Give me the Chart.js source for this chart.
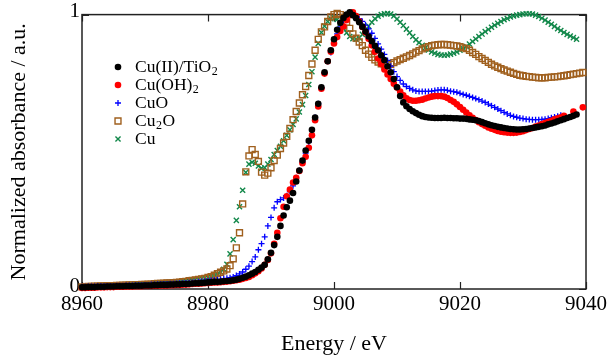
<!DOCTYPE html>
<html>
<head>
<meta charset="utf-8">
<script src="https://cdn.jsdelivr.net/npm/chart.js@4.4.1/dist/chart.umd.min.js"></script>
<style>
  html, body { margin: 0; padding: 0; background: #fff; }
  canvas { display: block; }
</style>
</head>
<body>
<canvas id="xanes" width="613" height="358"></canvas>
<script>
// Cu K-edge XANES spectra, normalized absorbance, 0.5 eV steps
const energy = [
  8960, 8960.5, 8961, 8961.5, 8962, 8962.5, 8963, 8963.5, 8964, 8964.5,
  8965, 8965.5, 8966, 8966.5, 8967, 8967.5, 8968, 8968.5, 8969, 8969.5,
  8970, 8970.5, 8971, 8971.5, 8972, 8972.5, 8973, 8973.5, 8974, 8974.5,
  8975, 8975.5, 8976, 8976.5, 8977, 8977.5, 8978, 8978.5, 8979, 8979.5,
  8980, 8980.5, 8981, 8981.5, 8982, 8982.5, 8983, 8983.5, 8984, 8984.5,
  8985, 8985.5, 8986, 8986.5, 8987, 8987.5, 8988, 8988.5, 8989, 8989.5,
  8990, 8990.5, 8991, 8991.5, 8992, 8992.5, 8993, 8993.5, 8994, 8994.5,
  8995, 8995.5, 8996, 8996.5, 8997, 8997.5, 8998, 8998.5, 8999, 8999.5,
  9000, 9000.5, 9001, 9001.5, 9002, 9002.5, 9003, 9003.5, 9004, 9004.5,
  9005, 9005.5, 9006, 9006.5, 9007, 9007.5, 9008, 9008.5, 9009, 9009.5,
  9010, 9010.5, 9011, 9011.5, 9012, 9012.5, 9013, 9013.5, 9014, 9014.5,
  9015, 9015.5, 9016, 9016.5, 9017, 9017.5, 9018, 9018.5, 9019, 9019.5,
  9020, 9020.5, 9021, 9021.5, 9022, 9022.5, 9023, 9023.5, 9024, 9024.5,
  9025, 9025.5, 9026, 9026.5, 9027, 9027.5, 9028, 9028.5, 9029, 9029.5,
  9030, 9030.5, 9031, 9031.5, 9032, 9032.5, 9033, 9033.5, 9034, 9034.5,
  9035, 9035.5, 9036, 9036.5, 9037, 9037.5, 9038, 9038.5, 9039, 9039.5,
  9040
];

const cuTiO2 = [
  0.006, 0.006, 0.007, 0.007, 0.007, 0.008, 0.008, 0.008, 0.009, 0.009,
  0.009, 0.010, 0.010, 0.010, 0.011, 0.011, 0.011, 0.012, 0.012, 0.012,
  0.013, 0.013, 0.013, 0.014, 0.014, 0.015, 0.015, 0.015, 0.016, 0.016,
  0.017, 0.017, 0.018, 0.018, 0.019, 0.020, 0.021, 0.021, 0.022, 0.023,
  0.024, 0.025, 0.026, 0.026, 0.027, 0.028, 0.029, 0.030, 0.032, 0.034,
  0.037, 0.041, 0.045, 0.050, 0.056, 0.062, 0.070, 0.078, 0.088, 0.108,
  0.132, 0.160, 0.190, 0.230, 0.268, 0.298, 0.322, 0.350, 0.392, 0.432,
  0.468, 0.505, 0.540, 0.580, 0.625, 0.675, 0.735, 0.790, 0.830, 0.870,
  0.910, 0.945, 0.970, 0.988, 1.000, 1.008, 0.998, 0.987, 0.972, 0.956,
  0.938, 0.920, 0.903, 0.886, 0.870, 0.852, 0.834, 0.812, 0.790, 0.765,
  0.735, 0.703, 0.680, 0.666, 0.656, 0.648, 0.641, 0.635, 0.630, 0.627,
  0.625, 0.624, 0.623, 0.623, 0.623, 0.624, 0.623, 0.623, 0.622, 0.622,
  0.621, 0.621, 0.620, 0.618, 0.617, 0.615, 0.612, 0.608, 0.604, 0.600,
  0.597, 0.594, 0.591, 0.589, 0.587, 0.585, 0.583, 0.582, 0.581, 0.581,
  0.582, 0.583, 0.585, 0.587, 0.589, 0.591, 0.593, 0.596, 0.600, 0.603,
  0.607, 0.611, 0.615, 0.619, 0.623, 0.627, 0.631, 0.636, null, null,
  null
];

const cuOH2 = [
  0.004, 0.004, 0.005, 0.005, 0.005, 0.006, 0.006, 0.006, 0.007, 0.007,
  0.007, 0.008, 0.008, 0.008, 0.009, 0.009, 0.009, 0.010, 0.010, 0.010,
  0.011, 0.011, 0.011, 0.012, 0.012, 0.013, 0.013, 0.013, 0.014, 0.014,
  0.015, 0.015, 0.016, 0.016, 0.017, 0.018, 0.019, 0.019, 0.020, 0.021,
  0.022, 0.023, 0.024, 0.024, 0.025, 0.026, 0.027, 0.028, 0.030, 0.032,
  0.034, 0.037, 0.040, 0.044, 0.050, 0.057, 0.065, 0.075, 0.088, 0.106,
  0.130, 0.165, 0.205, 0.258, 0.300, 0.338, 0.362, 0.388, 0.405, 0.430,
  0.458, 0.482, 0.515, 0.560, 0.615, 0.665, 0.730, 0.785, 0.830, 0.865,
  0.895, 0.918, 0.940, 0.957, 0.980, 0.998, 1.008, 0.995, 0.976, 0.955,
  0.935, 0.912, 0.888, 0.865, 0.840, 0.820, 0.800, 0.782, 0.765, 0.748,
  0.734, 0.720, 0.706, 0.695, 0.689, 0.686, 0.686, 0.688, 0.690, 0.694,
  0.698, 0.701, 0.703, 0.703, 0.703, 0.701, 0.696, 0.689, 0.682, 0.673,
  0.663, 0.653, 0.643, 0.633, 0.624, 0.616, 0.608, 0.601, 0.595, 0.589,
  0.584, 0.580, 0.576, 0.573, 0.571, 0.570, 0.569, 0.569, 0.570, 0.572,
  0.575, 0.579, 0.583, 0.587, 0.592, 0.596, 0.601, 0.605, 0.609, 0.613,
  0.618, 0.622, 0.626, 0.631, null, null, 0.647, null, null, 0.662,
  null
];

const cuO = [
  0.008, 0.008, 0.009, 0.009, 0.009, 0.010, 0.010, 0.010, 0.011, 0.011,
  0.011, 0.012, 0.012, 0.012, 0.013, 0.013, 0.013, 0.014, 0.014, 0.014,
  0.015, 0.015, 0.016, 0.016, 0.017, 0.017, 0.018, 0.018, 0.019, 0.019,
  0.020, 0.021, 0.021, 0.022, 0.023, 0.024, 0.025, 0.026, 0.027, 0.028,
  0.030, 0.031, 0.032, 0.034, 0.035, 0.037, 0.039, 0.041, 0.044, 0.049,
  0.055, 0.062, 0.072, 0.083, 0.100, 0.117, 0.143, 0.165, 0.190, 0.230,
  0.261, 0.296, 0.318, 0.326, 0.332, 0.340, 0.355, 0.376, 0.405, 0.432,
  0.462, 0.495, 0.535, 0.578, 0.625, 0.675, 0.730, 0.785, 0.830, 0.862,
  0.900, 0.930, 0.955, 0.975, 0.990, 1.000, 1.000, 0.995, 0.985, 0.975,
  0.962, 0.948, 0.932, 0.913, 0.893, 0.874, 0.855, 0.833, 0.812, 0.792,
  0.774, 0.760, 0.747, 0.738, 0.731, 0.726, 0.722, 0.720, 0.720, 0.720,
  0.720, 0.721, 0.723, 0.725, 0.726, 0.726, 0.724, 0.721, 0.719, 0.717,
  0.713, 0.709, 0.706, 0.702, 0.698, 0.694, 0.690, 0.685, 0.680, 0.674,
  0.668, 0.662, 0.656, 0.650, 0.644, 0.638, 0.633, 0.629, 0.626, 0.623,
  0.621, 0.619, 0.618, 0.617, 0.617, 0.617, 0.618, 0.619, 0.621, 0.624,
  0.627, 0.630, 0.633, null, null, null, null, null, null, null,
  null
];

const cu2O = [
  0.008, 0.008, 0.009, 0.009, 0.010, 0.010, 0.011, 0.011, 0.012, 0.012,
  0.012, 0.013, 0.013, 0.014, 0.014, 0.015, 0.015, 0.016, 0.016, 0.017,
  0.017, 0.018, 0.018, 0.019, 0.020, 0.020, 0.021, 0.022, 0.022, 0.023,
  0.024, 0.025, 0.027, 0.028, 0.030, 0.031, 0.033, 0.035, 0.037, 0.039,
  0.042, 0.045, 0.050, 0.056, 0.061, 0.066, 0.073, 0.085, 0.110, 0.150,
  0.205, 0.310, 0.427, 0.485, 0.508, 0.490, 0.465, 0.426, 0.415, 0.422,
  0.442, 0.468, 0.488, 0.512, 0.532, 0.556, 0.585, 0.617, 0.647, 0.678,
  0.708, 0.738, 0.778, 0.820, 0.870, 0.910, 0.937, 0.955, 0.975, 0.992,
  1.000, 1.004, 1.000, 0.990, 0.972, 0.950, 0.930, 0.914, 0.900, 0.887,
  0.870, 0.856, 0.844, 0.835, 0.827, 0.821, 0.817, 0.816, 0.819, 0.825,
  0.831, 0.836, 0.841, 0.846, 0.851, 0.857, 0.863, 0.869, 0.875, 0.879,
  0.883, 0.887, 0.889, 0.890, 0.891, 0.891, 0.890, 0.889, 0.887, 0.886,
  0.883, 0.879, 0.876, 0.870, 0.862, 0.855, 0.847, 0.840, 0.833, 0.826,
  0.819, 0.813, 0.808, 0.803, 0.798, 0.794, 0.790, 0.786, 0.782, 0.779,
  0.777, 0.775, 0.774, 0.772, 0.771, 0.770, 0.770, 0.770, 0.771, 0.772,
  0.773, 0.774, 0.776, 0.777, 0.779, 0.781, 0.783, 0.785, 0.787, 0.789,
  null
];

const cuMetal = [
  0.008, 0.008, 0.009, 0.009, 0.010, 0.010, 0.011, 0.011, 0.012, 0.012,
  0.012, 0.013, 0.013, 0.014, 0.014, 0.015, 0.015, 0.016, 0.016, 0.017,
  0.017, 0.018, 0.018, 0.019, 0.020, 0.020, 0.021, 0.022, 0.022, 0.023,
  0.024, 0.025, 0.027, 0.028, 0.030, 0.032, 0.034, 0.036, 0.038, 0.040,
  0.043, 0.046, 0.050, 0.055, 0.062, 0.072, 0.090, 0.128, 0.180, 0.250,
  0.300, 0.360, 0.425, 0.455, 0.462, 0.458, 0.448, 0.440, 0.442, 0.455,
  0.472, 0.490, 0.505, 0.520, 0.540, 0.560, 0.580, 0.600, 0.620, 0.645,
  0.672, 0.705, 0.745, 0.792, 0.845, 0.895, 0.935, 0.958, 0.975, 0.985,
  0.988, 0.982, 0.968, 0.950, 0.934, 0.920, 0.912, 0.910, 0.915, 0.928,
  0.944, 0.958, 0.972, 0.985, 0.994, 1.000, 1.003, 1.004, 1.002, 0.995,
  0.984, 0.972, 0.960, 0.947, 0.934, 0.920, 0.908, 0.898, 0.888, 0.879,
  0.871, 0.864, 0.859, 0.855, 0.853, 0.852, 0.853, 0.856, 0.859, 0.864,
  0.870, 0.876, 0.884, 0.893, 0.902, 0.911, 0.920, 0.929, 0.938, 0.946,
  0.954, 0.961, 0.968, 0.975, 0.981, 0.986, 0.991, 0.995, 0.998, 1.000,
  1.002, 1.003, 1.003, 1.002, 0.998, 0.993, 0.987, 0.980, 0.972, 0.965,
  0.957, 0.949, 0.942, 0.935, 0.928, 0.922, 0.916, 0.910, null, null,
  null
];

const sampleNames = ['Cu(II)/TiO₂', 'Cu(OH)₂', 'CuO', 'Cu₂O', 'Cu'];
const xTicks = [8960, 8980, 9000, 9020, 9040];
const yTicks = [0, 1];

const serif = 'Liberation Serif, Times New Roman, serif';

const toPoints = vals =>
  energy.map((e, i) => ({ x: e, y: vals[i] })).filter(p => p.y !== null);

// box, inward tick marks on all four sides
const frame = {
  id: 'frame',
  beforeDatasetsDraw(chart) {
    const { ctx, chartArea: a, scales } = chart;
    ctx.save();
    ctx.strokeStyle = '#222';
    ctx.lineWidth = 1.5;
    ctx.strokeRect(a.left, a.top, a.right - a.left, a.bottom - a.top);
    ctx.lineWidth = 1.2;
    ctx.beginPath();
    xTicks.forEach(v => {
      const px = Math.round(scales.x.getPixelForValue(v)) + 0.5;
      ctx.moveTo(px, a.bottom); ctx.lineTo(px, a.bottom - 7);
      ctx.moveTo(px, a.top); ctx.lineTo(px, a.top + 7);
    });
    yTicks.forEach(v => {
      const py = Math.round(scales.y.getPixelForValue(v)) + 0.5;
      ctx.moveTo(a.left, py); ctx.lineTo(a.left + 7, py);
      ctx.moveTo(a.right, py); ctx.lineTo(a.right - 7, py);
    });
    ctx.stroke();
    ctx.restore();
  }
};

function drawMarker(ctx, ds, x, y) {
  const r = ds.pointRadius;
  ctx.save();
  ctx.fillStyle = ds.backgroundColor;
  ctx.strokeStyle = ds.borderColor;
  ctx.lineWidth = ds.borderWidth || 1;
  ctx.beginPath();
  if (ds.pointStyle === 'circle') {
    ctx.arc(x, y, r, 0, Math.PI * 2);
    ctx.fill();
  } else if (ds.pointStyle === 'rect') {
    const s = r * Math.SQRT1_2;
    ctx.rect(x - s, y - s, 2 * s, 2 * s);
    ctx.stroke();
  } else if (ds.pointStyle === 'cross') {
    ctx.moveTo(x - r, y); ctx.lineTo(x + r, y);
    ctx.moveTo(x, y - r); ctx.lineTo(x, y + r);
    ctx.stroke();
  } else {
    const d = r * Math.SQRT1_2;
    ctx.moveTo(x - d, y - d); ctx.lineTo(x + d, y + d);
    ctx.moveTo(x - d, y + d); ctx.lineTo(x + d, y - d);
    ctx.stroke();
  }
  ctx.restore();
}

// legend inside the plot, with subscript digits
const insetLegend = {
  id: 'insetLegend',
  afterDraw(chart) {
    const ctx = chart.ctx;
    chart.data.datasets.forEach((ds, i) => {
      const y = 67 + i * 18;
      drawMarker(ctx, ds, 118, y);
      let x = 135;
      ctx.save();
      ctx.fillStyle = '#000';
      ctx.textBaseline = 'middle';
      ds.label.split(/(₂)/).forEach(part => {
        if (!part) return;
        if (part === '₂') {
          ctx.font = '12px ' + serif;
          ctx.fillText('2', x + 0.5, y + 5);
          x += ctx.measureText('2').width + 1;
        } else {
          ctx.font = '17.5px ' + serif;
          ctx.fillText(part, x, y);
          x += ctx.measureText(part).width;
        }
      });
      ctx.restore();
    });
  }
};

const series = [
  { label: sampleNames[0], data: toPoints(cuTiO2), pointStyle: 'circle', pointRadius: 3.3,
    backgroundColor: '#000000', borderColor: '#000000', borderWidth: 0 },
  { label: sampleNames[1], data: toPoints(cuOH2), pointStyle: 'circle', pointRadius: 3.3,
    backgroundColor: '#ff0000', borderColor: '#ff0000', borderWidth: 0 },
  { label: sampleNames[2], data: toPoints(cuO), pointStyle: 'cross', pointRadius: 3,
    backgroundColor: '#0000ff', borderColor: '#0000ff', borderWidth: 1.3 },
  { label: sampleNames[3], data: toPoints(cu2O), pointStyle: 'rect', pointRadius: 4.2,
    backgroundColor: 'rgba(255,255,255,0)', borderColor: '#a0601e', borderWidth: 1.4 },
  { label: sampleNames[4], data: toPoints(cuMetal), pointStyle: 'crossRot', pointRadius: 3.6,
    backgroundColor: '#12884a', borderColor: '#12884a', borderWidth: 1.4 }
].map(ds => Object.assign(ds, { showLine: false, clip: false, pointHoverRadius: ds.pointRadius }));

new Chart(document.getElementById('xanes'), {
  type: 'scatter',
  data: { datasets: series },
  options: {
    responsive: false,
    animation: false,
    events: [],
    layout: { padding: { top: 12, right: 27, left: 0, bottom: 0 } },
    plugins: { legend: { display: false }, tooltip: { enabled: false } },
    scales: {
      x: {
        type: 'linear',
        min: 8960,
        max: 9040,
        afterBuildTicks: s => { s.ticks = xTicks.map(v => ({ value: v })); },
        afterFit: s => { s.height = 69; },
        grid: { display: false, drawTicks: false },
        border: { display: false },
        ticks: { color: '#000', font: { family: serif, size: 21 }, padding: 3,
                 maxRotation: 0, callback: v => String(v) },
        title: { display: true, text: 'Energy / eV', color: '#000',
                 font: { family: serif, size: 22 }, padding: { top: 0, bottom: 1 } }
      },
      y: {
        type: 'linear',
        min: 0,
        max: 1,
        afterBuildTicks: s => { s.ticks = yTicks.map(v => ({ value: v })); },
        afterFit: s => { s.width = 82; },
        grid: { display: false, drawTicks: false },
        border: { display: false },
        ticks: { color: '#000', font: { family: serif, size: 21 }, padding: 2,
                 labelOffset: -3, callback: v => String(v) },
        title: { display: true, text: 'Normalized absorbance / a.u.', color: '#000',
                 font: { family: serif, size: 22 }, padding: { top: 6, bottom: 0 } }
      }
    }
  },
  plugins: [frame, insetLegend]
});
</script>
</body>
</html>
